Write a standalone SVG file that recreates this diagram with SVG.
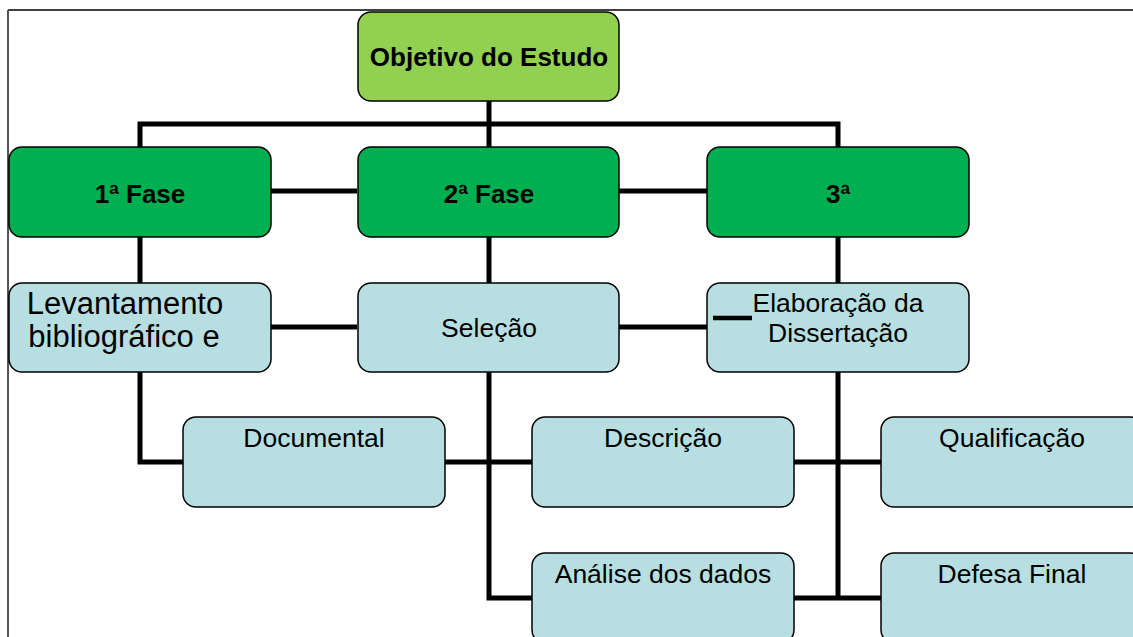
<svg xmlns="http://www.w3.org/2000/svg" width="1133" height="637" viewBox="0 0 1133 637">
<style>
.box{stroke:#000;stroke-width:1.5}
.obj{fill:#92D050}
.ph{fill:#00B050}
.lb{fill:#B7DFE2}
.c{fill:none;stroke:#000;stroke-width:5;stroke-linejoin:miter;stroke-linecap:butt}
.tb{font-family:"Liberation Sans",Arial,sans-serif;font-weight:bold;font-size:26px;text-anchor:middle;fill:#000}
.t{font-family:"Liberation Sans",Arial,sans-serif;font-size:26.5px;text-anchor:middle;fill:#000}
.tl{font-size:31px}
</style>
<rect width="1133" height="637" fill="#fff"/>
<g id="frame">
<line x1="8" y1="10" x2="1133" y2="10" stroke="#000" stroke-width="1.5"/>
<line x1="8" y1="10" x2="8" y2="637" stroke="#555" stroke-width="2"/>
</g>
<g id="connectors">
<path class="c" d="M489 101V147"/>
<path class="c" d="M140 147V124H838V147"/>
<path class="c" d="M271 191H357M619 191H707"/>
<path class="c" d="M140 237V283M489 237V283M838 237V283"/>
<path class="c" d="M271 327H357M619 327H707"/>
<path class="c" d="M140 372V462H183"/>
<path class="c" d="M445 462H532"/>
<path class="c" d="M489 372V598H532"/>
<path class="c" d="M838 372V598"/>
<path class="c" d="M794 462H881M794 598H881"/>
</g>
<g id="objetivo">
<rect class="box obj" x="358" y="12" width="261" height="89" rx="13"/>
<text class="tb" x="489" y="66">Objetivo do Estudo</text>
</g>
<g id="fase1">
<rect class="box ph" x="9" y="147" width="262" height="90" rx="13"/>
<text class="tb" x="140" y="203">1ª Fase</text>
</g>
<g id="fase2">
<rect class="box ph" x="358" y="147" width="261" height="90" rx="13"/>
<text class="tb" x="489" y="203">2ª Fase</text>
</g>
<g id="fase3">
<rect class="box ph" x="707" y="147" width="262" height="90" rx="13"/>
<text class="tb" x="838" y="203">3ª</text>
</g>
<g id="levantamento">
<rect class="box lb" x="9" y="283" width="262" height="89" rx="13"/>
<text class="t tl" x="125" y="314">Levantamento</text>
<text class="t tl" x="124" y="347">bibliográfico e</text>
</g>
<g id="selecao">
<rect class="box lb" x="358" y="283" width="261" height="89" rx="13"/>
<text class="t" x="489" y="337">Seleção</text>
</g>
<g id="elaboracao">
<rect class="box lb" x="707" y="283" width="262" height="89" rx="13"/>
<line x1="713" y1="318" x2="752" y2="318" stroke="#000" stroke-width="4.5"/>
<text class="t" x="838" y="312">Elaboração da</text>
<text class="t" x="838" y="342">Dissertação</text>
</g>
<g id="documental">
<rect class="box lb" x="183" y="417" width="262" height="90" rx="13"/>
<text class="t" x="314" y="447">Documental</text>
</g>
<g id="descricao">
<rect class="box lb" x="532" y="417" width="262" height="90" rx="13"/>
<text class="t" x="663" y="447">Descrição</text>
</g>
<g id="qualificacao">
<rect class="box lb" x="881" y="417" width="262" height="90" rx="13"/>
<text class="t" x="1012" y="447">Qualificação</text>
</g>
<g id="analise">
<rect class="box lb" x="532" y="553" width="262" height="90" rx="13"/>
<text class="t" x="663" y="583">Análise dos dados</text>
</g>
<g id="defesa">
<rect class="box lb" x="881" y="553" width="262" height="90" rx="13"/>
<text class="t" x="1012" y="583">Defesa Final</text>
</g>
</svg>
